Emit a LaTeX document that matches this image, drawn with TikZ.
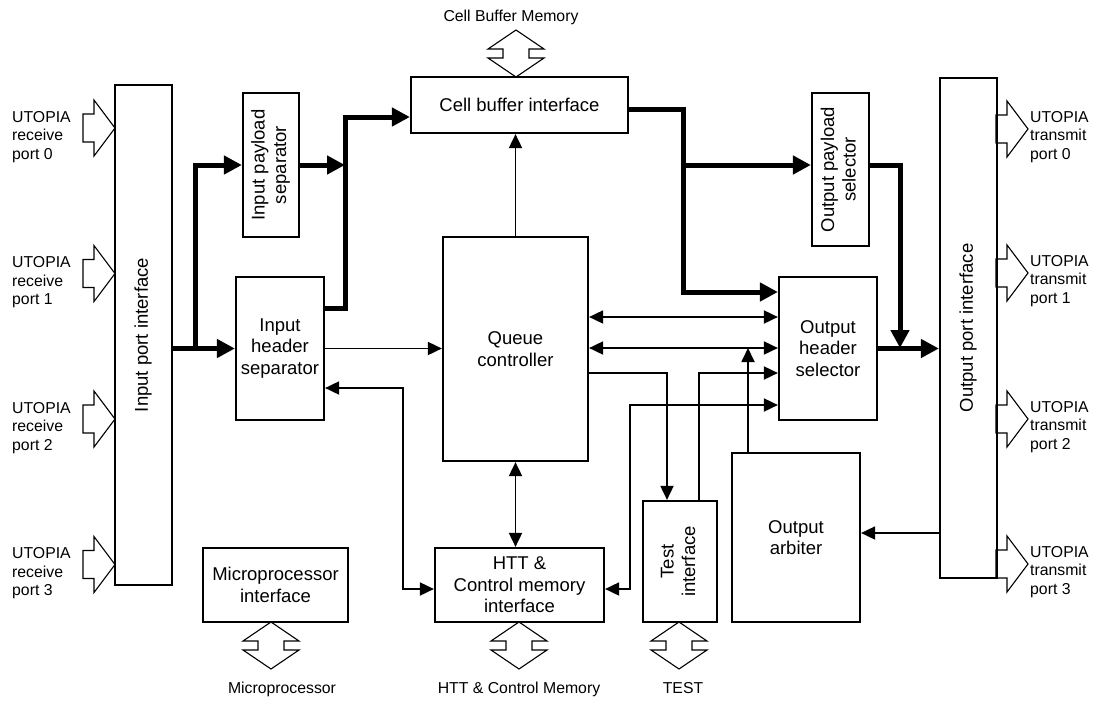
\documentclass[tikz,border=0pt]{standalone}
\usepackage{fontspec}
\setmainfont{Liberation Sans}
\usepackage{graphicx}
\usetikzlibrary{arrows.meta}

\newcommand\boxfont{\fontsize{18.5}{21.5}\selectfont}
\newcommand\lblfont{\fontsize{15.8}{18.5}\selectfont}
\newcommand\vtext[1]{\rotatebox{90}{\begin{tabular}{@{}c@{}}#1\end{tabular}}}

\begin{document}
\begin{tikzpicture}[x=1pt,y=-1pt,
  box/.style={draw, line width=2.2pt, inner sep=0pt, align=center, font=\boxfont},
  lbl/.style={inner sep=0pt, font=\lblfont},
  portlbl/.style={lbl, anchor=west, align=left},
  thinline/.style={line width=1.8pt},
  thintip/.style={thinline, -{Triangle[length=14pt,width=13pt]}},
  thinboth/.style={thinline, {Triangle[length=14pt,width=13pt]}-{Triangle[length=14pt,width=13pt]}},
  bus/.style={line width=5pt, -{Triangle[length=18pt,width=18pt]}},
  hollow/.style={draw, line width=1.1pt, line join=miter},
  portarrow/.pic={\draw[hollow] (0,0) -- (-21,-28) -- (-21,-14) -- (-32,-14) -- (-32,14) -- (-21,14) -- (-21,28) -- cycle;},
  memlink/.pic={\draw[hollow] (0,0) -- (28,19) -- (13,19) -- (13,28) -- (28,28) -- (0,47) -- (-28,28) -- (-13,28) -- (-13,19) -- (-28,19) -- cycle;}
]
\useasboundingbox (0,0) rectangle (1096,702);

% ---- blocks ----
\node[box, minimum width=57pt, minimum height=500pt] (ipi) at (143.5,335) {\vtext{Input port interface}};
\node[box, minimum width=57pt, minimum height=500pt] (opi) at (968.5,328) {\vtext{Output port interface}};
\node[box, minimum width=56pt, minimum height=144pt] (ips) at (271,165) {\vtext{Input payload\\separator}};
\node[box, minimum width=217pt, minimum height=56pt] (cbi) at (519.5,105) {Cell buffer interface};
\node[box, minimum width=88pt, minimum height=143pt] (ihs) at (280,348.5) {Input\\header\\separator};
\node[box, minimum width=145pt, minimum height=224pt] (qc) at (515.5,349) {Queue\\controller};
\node[box, minimum width=169pt, minimum height=74pt] (htt) at (519.5,585) {HTT \&\\Control memory\\interface};
\node[box, minimum width=74pt, minimum height=121pt] (ti) at (680,561.5) {\vtext{Test\\interface}};
\node[box, minimum width=128pt, minimum height=169pt] (oa) at (796,537.5) {Output\\arbiter};
\node[box, minimum width=57pt, minimum height=153pt] (ops) at (840.5,169.5) {\vtext{Output payload\\selector}};
\node[box, minimum width=98pt, minimum height=143pt] (ohs) at (828,348.5) {Output\\header\\selector};
\node[box, minimum width=145pt, minimum height=74pt] (mpi) at (275.5,585) {Microprocessor\\interface};

% ---- routing points ----
\coordinate (ibus) at (195,348.5);
\coordinate (pbusTop) at (345,117);
\coordinate (pbusLow) at (345,308);
\coordinate (obusTop) at (683,109);
\coordinate (obusMid) at (683,165);
\coordinate (obusLow) at (683,292);
\coordinate (mergeTop) at (900,165);
\coordinate (ctlA) at (600,317);
\coordinate (ctlB) at (600,348);
\coordinate (tin) at (667,373);
\coordinate (tout) at (699,373);
\coordinate (hsel) at (630,405);
\coordinate (hlow) at (630,589);
\coordinate (arb) at (748,348);
\coordinate (arbin) at (900,533);
\coordinate (ctlD) at (403,388);
\coordinate (ctlE) at (403,589);

% ---- cell data paths ----
\draw[bus] (ipi.east |- ihs.west) -- (ihs.west);
\draw[bus] (ibus) |- (ips.west);
\draw[bus] (ips.east) -- (ips.east -| pbusTop);
\draw[bus] (ihs.east |- pbusLow) -- (pbusLow) -- (pbusTop) -- (cbi.west |- pbusTop);
\draw[bus] (cbi.east |- obusTop) -- (obusTop) -- (obusLow) -- (ohs.west |- obusLow);
\draw[bus] (obusMid) -- (ops.west |- obusMid);
\draw[bus] (ops.east |- mergeTop) -- (mergeTop) -- (mergeTop |- ctlB);
\draw[bus] (ohs.east) -- (opi.west |- ohs.east);

% ---- control paths ----
\draw[thintip] (ihs.east) -- (qc.west |- ihs.east);
\draw[thintip] (qc.north) -- (qc.north |- cbi.south);
\draw[thinboth] (qc.east |- ctlA) -- (ohs.west |- ctlA);
\draw[thinboth] (qc.east |- ctlB) -- (ohs.west |- ctlB);
\draw[thintip] (qc.east |- tin) -- (tin) -- (tin |- ti.north);
\draw[thintip] (tout |- ti.north) -- (tout) -- (ohs.west |- tout);
\draw[thinboth] (htt.east |- hlow) -- (hlow) -- (hsel) -- (ohs.west |- hsel);
\draw[thintip] (arb |- oa.north) -- (arb);
\draw[thintip] (opi.west |- arbin) -- (oa.east |- arbin);
\draw[thinboth] (ihs.east |- ctlD) -- (ctlD) -- (ctlE) -- (htt.west |- ctlE);
\draw[thinboth] (qc.south) -- (qc.south |- htt.north);

% ---- external interfaces ----
\foreach \y/\n in {128/0, 273.5/1, 419/2, 564.5/3} {
  \pic at (115,\y) {portarrow};
  \node[portlbl] at (12,\y+9) {UTOPIA\\receive\\port \n};
}
\foreach \y/\n in {129/0, 273/1, 419/2, 564/3} {
  \pic at (1028,\y) {portarrow};
  \node[portlbl] at (1030,\y+8) {UTOPIA\\transmit\\port \n};
}

\pic at (516,30) {memlink};
\node[lbl] (cbm) at (511,17) {Cell Buffer Memory};
\pic at (271,622) {memlink};
\node[lbl] (mp) at (282,689) {Microprocessor};
\pic at (519,622) {memlink};
\node[lbl] (hcm) at (519,689) {HTT \& Control Memory};
\pic at (679,622) {memlink};
\node[lbl] (tst) at (683,688) {TEST};
\end{tikzpicture}
\end{document}
